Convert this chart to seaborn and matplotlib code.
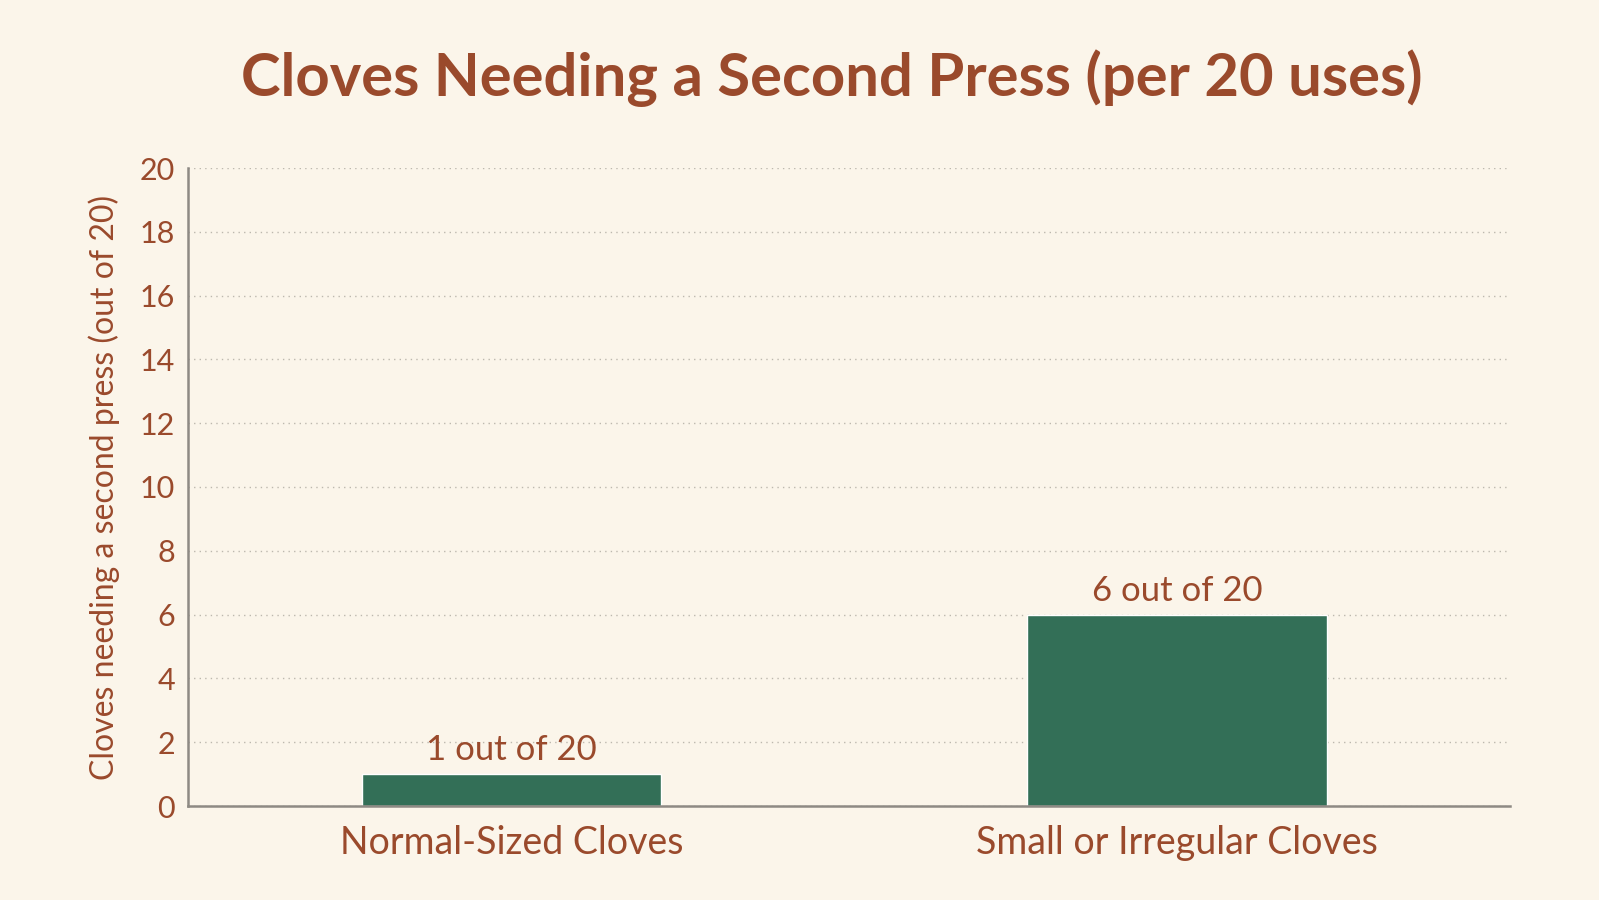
import matplotlib
matplotlib.use("Agg")
import matplotlib.pyplot as plt
import seaborn as sns
import pandas as pd

categories = ["Normal-Sized Cloves", "Small or Irregular Cloves"]
values = [1, 6]
labels = ["1 out of 20", "6 out of 20"]
yticks = list(range(0, 21, 2))

bg = "#FBF5EA"
brown = "#9A4A2C"
green = "#336F57"

sns.set_style("white")
plt.rcParams['font.family'] = ['Lato', 'DejaVu Sans']

fig = plt.figure(figsize=(15.99, 9), dpi=100, facecolor=bg)
ax = fig.add_axes([188/1599, 1-806/900, (1510-188)/1599, (806-168)/900])
ax.set_facecolor(bg)
df = pd.DataFrame({"cat": categories, "val": values})
sns.barplot(data=df, x="cat", y="val", color=green, saturation=1, width=0.45, ax=ax)
ax.set_xlim(-0.486, 1.5)
ax.set_ylim(0, 20)
ax.set_yticks(yticks)
ax.yaxis.grid(True, linestyle=(0, (1, 3)), color="#BDB8AE", linewidth=1)
ax.set_axisbelow(True)
for s in ["top", "right"]:
    ax.spines[s].set_visible(False)
for s in ["left", "bottom"]:
    ax.spines[s].set_color("#8E8A84")
    ax.spines[s].set_linewidth(1.8)
ax.tick_params(axis="y", colors="#8E8A84", labelcolor=brown, labelsize=22, length=6, width=1.5)
ax.tick_params(axis="x", length=0, labelcolor=brown, labelsize=27, pad=14)
ax.set_xlabel("")
ax.set_ylabel("Cloves needing a second press (out of 20)", color=brown, fontsize=23, labelpad=14)
for i, (v, t) in enumerate(zip(values, labels)):
    ax.text(i, v + 0.25, t, ha="center", va="bottom", color=brown, fontsize=25)
fig.text(0.52, 1-78/900, "Cloves Needing a Second Press (per 20 uses)", ha="center", va="center",
         color=brown, fontsize=43, fontweight="bold")
fig.savefig("out.png", dpi=100, facecolor=bg)
